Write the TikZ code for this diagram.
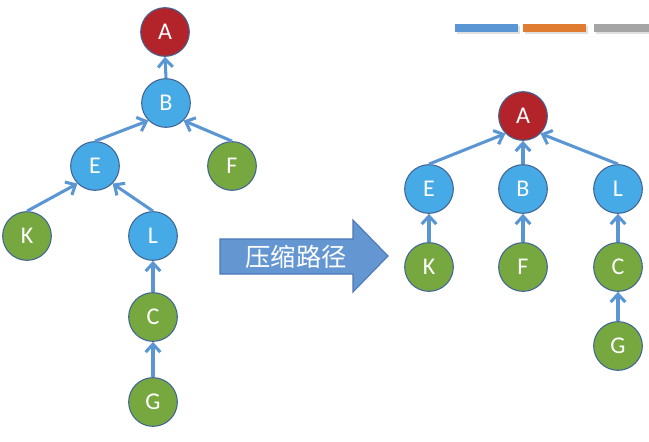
\documentclass[tikz,border=0pt]{standalone}
\usepackage{fontspec}
\setmainfont{Carlito}
\newfontfamily\cjk{Noto Sans CJK SC}
\usepackage{tikz}
\usetikzlibrary{arrows.meta,positioning}
\definecolor{nodered}{RGB}{178,36,42}
\definecolor{nodeblue}{RGB}{70,170,230}
\definecolor{nodegreen}{RGB}{118,168,63}
\definecolor{nodeline}{RGB}{65,100,150}
\definecolor{linkblue}{RGB}{91,150,212}
\definecolor{bigarrow}{RGB}{100,150,210}
\definecolor{bigline}{RGB}{75,120,185}
\definecolor{barorange}{RGB}{224,123,50}
\definecolor{bargray}{RGB}{165,165,165}

\begin{document}
\begin{tikzpicture}[x=0.75pt,y=-0.75pt,>={Straight Barb[length=6pt,width=11pt]},
	vtx/.style={circle,draw=nodeline,line width=0.8pt,minimum size=36.5pt,inner sep=0pt,
		text=white,font=\fontsize{18}{21}\selectfont},
	rednode/.style={vtx,fill=nodered},
	bluenode/.style={vtx,fill=nodeblue},
	greennode/.style={vtx,fill=nodegreen},
	link/.style={->,draw=linkblue,line width=2.3pt}]
\useasboundingbox (0,0) rectangle (649,442);

% bars top right
\fill[black!12] (457,26) rectangle (520,34);
\fill[black!12] (525,26) rectangle (588,34);
\fill[black!12] (596,26) rectangle (649,34);
\fill[linkblue] (455,24) rectangle (518,32);
\fill[barorange] (523,24) rectangle (586,32);
\fill[bargray] (594,24) rectangle (649,32);

% left tree
\node[rednode] (lA) at (165,32) {A};
\node[bluenode] (lB) at (166,103) {B};
\node[bluenode] (lE) at (95,166) {E};
\node[greennode] (lF) at (232,166) {F};
\node[greennode] (lK) at (27,236) {K};
\node[bluenode] (lL) at (153,236) {L};
\node[greennode] (lC) at (153,317) {C};
\node[greennode] (lG) at (153,402) {G};

\draw[link] (lB.north) -- (lA.south);
\draw[link] (lE.north) -- (lB.south west);
\draw[link] (lF.north) -- (lB.south east);
\draw[link] (lK.north) -- (lE.south west);
\draw[link] (lL.north) -- (lE.south east);
\draw[link] (lC.north) -- (lL.south);
\draw[link] (lG.north) -- (lC.south);

% big arrow
\filldraw[fill=bigarrow,draw=bigline,line width=0.8pt]
	(220,239) -- (353,239) -- (353,220) -- (388,256) -- (353,292) -- (353,274) -- (220,274) -- cycle;
\node[text=white,font=\cjk\fontsize{19}{22}\selectfont] (press) at (296,257) {压缩路径};

% right tree
\node[rednode] (rA) at (523,116) {A};
\node[bluenode] (rE) at (429,189) {E};
\node[bluenode] (rB) at (523,189) {B};
\node[bluenode] (rL) at (618,189) {L};
\node[greennode] (rK) at (429,267) {K};
\node[greennode] (rF) at (523,267) {F};
\node[greennode] (rC) at (618,267) {C};
\node[greennode] (rG) at (618,346) {G};

\draw[link] (rE.north) -- (rA.south west);
\draw[link] (rB.north) -- (rA.south);
\draw[link] (rL.north) -- (rA.south east);
\draw[link] (rK.north) -- (rE.south);
\draw[link] (rF.north) -- (rB.south);
\draw[link] (rC.north) -- (rL.south);
\draw[link] (rG.north) -- (rC.south);
\end{tikzpicture}
\end{document}
